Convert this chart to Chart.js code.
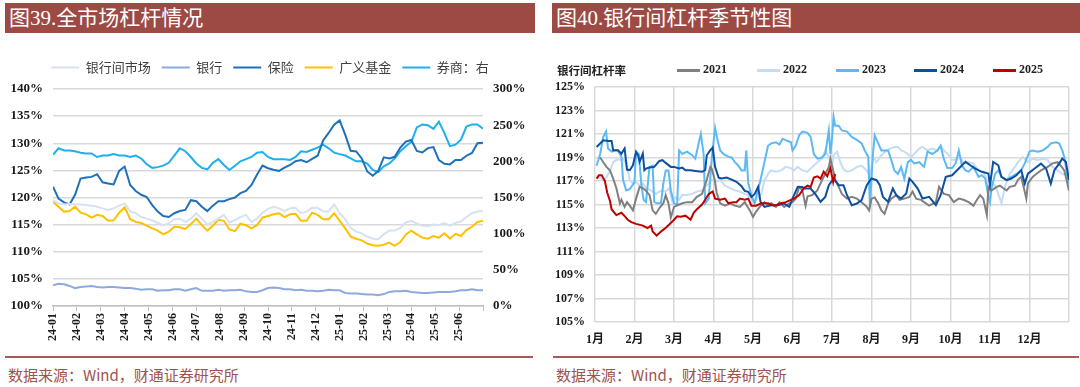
<!DOCTYPE html>
<html>
<head>
<meta charset="utf-8">
<script src="https://cdn.jsdelivr.net/npm/chart.js@4.4.1/dist/chart.umd.min.js"></script>
<style>
  body { margin: 0; width: 1080px; height: 387px; background: #fff; position: relative; overflow: hidden; font-family: "Noto Sans CJK SC", sans-serif; }
  .bar { position: absolute; top: 3px; height: 30px; background: #9D4A44; color: #fff; font: 21px "Liberation Serif", "Noto Sans CJK SC"; line-height: 30px; padding-left: 4px; box-sizing: border-box; }
  .box { position: absolute; top: 40px; width: 540px; height: 310px; }
  .rule { position: absolute; top: 356px; height: 1.5px; background: #A65A55; }
  .src { position: absolute; top: 364px; font-size: 15px; color: #A0524D; font-family: "Noto Sans CJK SC", sans-serif; }
  .ylab { position: absolute; left: 557px; top: 62px; font: bold 11.5px "Noto Sans CJK SC"; color: #222; }
  .legLine { position: absolute; top: 69px; width: 23px; height: 2.5px; }
  .legText { position: absolute; top: 62px; font: bold 12px "Liberation Serif"; color: #222; }
</style>
</head>
<body>
<div class="bar" style="left:5px;width:530px">图39.全市场杠杆情况</div>
<div class="bar" style="left:552px;width:528px">图40.银行间杠杆季节性图</div>

<div class="box" style="left:0"><canvas id="leftChart" width="540" height="310"></canvas></div>
<div class="box" style="left:540px"><canvas id="rightChart" width="540" height="310"></canvas></div>
<div class="ylab">银行间杠杆率</div>
<div id="rightLegend"></div>

<div class="rule" style="left:5px;width:528px"></div>
<div class="rule" style="left:553px;width:526px"></div>
<div class="src" style="left:8px">数据来源：Wind，财通证券研究所</div>
<div class="src" style="left:556px">数据来源：Wind，财通证券研究所</div>

<script>
// ---- 图39 weekly data (left axis %, brokers on right axis %) ----
const months = ['24-01','24-02','24-03','24-04','24-05','24-06','24-07','24-08','24-09',
  '24-10','24-11','24-12','25-01','25-02','25-03','25-04','25-05','25-06'];

const interbank = [119.5,118.9,118.7,118.8,118.7,118.7,118.6,118.5,118.3,118.0,
  117.7,118.0,118.5,118.9,117.5,117.1,116.4,116.1,115.8,115.3,
  114.9,115.2,116.0,116.1,115.5,116.1,117.1,116.1,115.0,115.5,
  116.1,116.8,115.4,115.8,116.4,116.8,115.5,116.1,117.2,117.9,
  118.3,118.0,117.5,118.0,118.1,117.1,117.4,118.1,118.1,117.4,
  117.4,118.7,117.1,116.0,114.4,113.7,113.4,112.8,112.4,112.3,
  113.2,113.9,113.9,114.4,115.4,115.7,115.2,114.8,114.7,115.0,
  114.9,115.3,114.8,115.3,115.6,116.4,117.1,117.4,117.5];

const banks = [103.8,104.1,104.0,103.7,103.3,103.5,103.6,103.7,103.5,103.4,
  103.5,103.5,103.4,103.3,103.3,103.2,103.0,103.1,103.1,102.8,
  102.9,102.9,103.1,103.1,102.8,103.1,103.3,102.8,102.8,102.8,
  103.0,102.8,102.9,102.9,103.0,102.7,102.6,102.6,102.9,103.3,
  103.4,103.3,103.1,103.1,102.9,103.0,102.8,102.8,102.7,102.8,
  103.0,102.9,102.9,102.4,102.3,102.3,102.2,102.1,102.1,102.0,
  102.2,102.6,102.7,102.7,102.8,102.6,102.5,102.4,102.4,102.5,
  102.6,102.6,102.6,102.7,102.9,102.9,103.1,102.9,102.9];

const insurance = [122.0,119.8,119.1,118.7,120.5,123.5,123.7,123.8,124.3,122.8,
  122.6,122.4,124.9,125.7,122.3,121.2,120.5,120.1,118.6,117.4,
  116.6,116.4,117.1,117.5,117.7,119.5,119.3,118.3,117.5,118.5,
  119.3,119.3,119.7,120.0,120.8,121.2,122.3,124.2,125.9,125.4,
  125.1,124.9,125.5,126.0,126.7,126.9,126.5,127.1,127.7,130.5,
  131.9,133.4,134.2,131.6,128.6,128.5,127.2,124.8,124.0,124.9,
  127.4,127.2,127.5,129.2,130.3,130.6,128.6,128.3,129.1,129.3,
  126.9,126.2,126.1,126.9,126.9,127.7,128.2,130.0,130.1];

const funds = [119.2,118.3,117.4,117.5,118.3,117.2,116.9,116.3,116.8,116.6,
  115.7,115.8,117.2,118.2,116.0,115.5,115.3,114.8,114.3,113.9,
  113.2,113.7,114.6,114.5,114.2,115.1,116.1,114.9,113.9,114.8,
  115.9,115.7,114.1,113.8,115.2,114.9,114.3,114.9,116.3,116.6,
  116.9,117.1,116.4,116.9,117.0,115.7,115.7,117.2,116.8,116.0,
  116.0,117.1,115.7,114.3,112.8,112.4,112.1,111.5,111.2,111.1,
  111.3,111.7,111.1,111.8,113.2,113.9,113.2,112.6,112.4,112.9,
  112.6,113.4,112.4,113.3,112.9,114.0,114.6,115.5,115.7];

const brokers = [209,218,215,215,214,212,211,211,206,208,
  208,210,208,208,206,208,204,196,191,192,
  194,198,208,218,214,206,197,191,189,198,
  203,195,188,194,200,203,206,212,213,206,
  203,203,203,202,206,214,213,216,219,223,
  218,212,210,208,204,200,200,197,188,185,
  193,197,204,214,221,227,247,251,250,245,
  255,239,221,223,230,248,251,251,245];

// ---- 图40 seasonal data: [month position, leverage %] ----
const monthLabels = ['1月','2月','3月','4月','5月','6月','7月','8月','9月','10月','11月','12月'];
const years = ['2021','2022','2023','2024','2025'];

const y2021 = [[0.13,119.0],[0.21,118.6],[0.29,118.2],[0.38,117.9],[0.46,117.2],[0.54,116.4],[0.63,115.1],[0.67,115.4],[0.75,114.8],[0.81,115.2],[0.88,114.9],[0.96,114.5],
  [1.04,115.5],[1.13,116.5],[1.21,116.4],[1.28,116.2],[1.38,115.8],[1.46,114.5],[1.54,114.2],[1.63,114.7],[1.73,115.1],[1.79,115.8],[1.86,115.1],[1.92,113.9],
  [2.00,114.8],[2.13,115.0],[2.21,115.1],[2.33,115.2],[2.46,115.2],[2.58,115.65],[2.71,115.9],[2.83,117.1],[2.92,118.2],[2.96,118.0],
  [3.03,117.1],[3.08,116.0],[3.17,115.1],[3.29,114.9],[3.42,115.1],[3.54,114.9],[3.67,114.8],[3.79,115.2],[3.92,114.5],
  [4.00,113.95],[4.08,114.4],[4.17,114.8],[4.29,115.2],[4.38,114.9],[4.46,115.1],[4.58,114.8],[4.67,115.2],[4.79,114.8],[4.92,115.1],
  [5.00,115.2],[5.08,115.5],[5.17,116.5],[5.25,116.2],[5.33,114.9],[5.38,115.7],[5.50,115.8],[5.63,116.2],[5.75,117.1],[5.83,117.6],[5.92,118.2],[5.96,118.9],
  [6.03,117.9],[6.08,117.1],[6.17,116.5],[6.25,115.9],[6.38,115.5],[6.50,115.65],[6.63,115.5],[6.75,115.2],[6.88,114.8],[6.94,114.5],
  [7.00,115.5],[7.08,115.6],[7.17,115.1],[7.25,114.5],[7.33,114.2],[7.42,115.1],[7.50,115.5],[7.63,115.8],[7.71,115.4],[7.83,115.5],[7.96,115.65],
  [8.04,116.1],[8.13,115.5],[8.25,115.4],[8.33,115.2],[8.46,114.9],[8.63,115.2],[8.71,116.5],[8.83,115.9],[8.96,115.8],
  [9.08,115.2],[9.21,115.5],[9.33,115.4],[9.46,115.2],[9.58,114.9],[9.67,115.4],[9.75,115.8],[9.83,115.5],[9.92,114.1],[9.96,116.5],
  [10.04,116.2],[10.17,116.5],[10.25,116.6],[10.33,116.4],[10.42,116.2],[10.50,116.5],[10.63,116.6],[10.71,117.1],[10.79,117.35],[10.92,115.5],[10.96,116.8],
  [11.08,117.35],[11.17,117.6],[11.29,117.9],[11.46,118.2],[11.58,118.5],[11.71,118.6],[11.79,118.3],[11.88,117.9],[11.92,117.35],[12.0,116.2]];

const y2022 = [[0.04,117.2],[0.13,117.3],[0.21,117.07],[0.29,117.3],[0.38,117.9],[0.46,118.6],[0.54,118.8],[0.63,118.8],[0.71,118.9],[0.79,118.5],[0.88,117.1],[0.96,116.8],
  [1.04,116.9],[1.13,116.6],[1.21,116.8],[1.29,116.4],[1.42,116.2],[1.54,115.9],[1.63,116.1],[1.71,116.2],[1.79,116.1],[1.88,116.4],[1.96,115.2],
  [2.04,115.6],[2.13,115.4],[2.21,115.8],[2.33,115.8],[2.46,115.9],[2.58,116.1],[2.71,116.2],[2.79,116.5],[2.88,116.8],[2.96,117.1],
  [3.04,116.9],[3.17,117.1],[3.29,116.6],[3.42,116.4],[3.54,116.2],[3.67,116.1],[3.79,115.9],[3.88,115.8],[3.96,115.4],
  [4.04,115.2],[4.13,115.65],[4.21,115.9],[4.29,117.07],[4.38,117.6],[4.46,117.9],[4.58,117.8],[4.71,117.9],[4.83,118.2],[4.96,118.1],
  [5.04,117.9],[5.13,118.2],[5.25,117.9],[5.38,117.8],[5.50,118.2],[5.63,118.6],[5.75,118.9],[5.83,119.6],[5.92,119.05],
  [6.00,118.2],[6.04,119.2],[6.13,119.5],[6.21,118.6],[6.29,118.0],[6.38,117.8],[6.50,117.9],[6.63,118.2],[6.75,118.3],[6.88,117.9],[6.96,117.35],
  [7.04,119.05],[7.13,118.6],[7.25,119.2],[7.38,119.6],[7.50,119.8],[7.58,119.9],[7.67,119.9],[7.75,119.6],[7.83,119.5],[7.92,119.3],
  [8.00,119.05],[8.08,119.3],[8.21,119.76],[8.29,119.9],[8.42,119.6],[8.54,119.76],[8.67,119.6],[8.75,120.0],[8.83,119.6],[8.96,119.2],
  [9.04,118.8],[9.13,118.8],[9.25,119.05],[9.33,118.5],[9.46,118.6],[9.58,118.5],[9.71,117.9],[9.83,117.8],[9.92,117.07],[9.96,116.2],
  [10.04,116.8],[10.13,116.6],[10.21,115.9],[10.29,115.1],[10.38,116.5],[10.50,117.6],[10.63,118.2],[10.71,118.6],[10.83,119.05],[10.96,118.6],
  [11.08,118.9],[11.21,118.8],[11.33,118.9],[11.46,118.8],[11.58,118.2],[11.71,117.9],[11.83,117.6],[11.92,117.5],[12.0,117.35]];

const y2023 = [[0.04,118.3],[0.13,119.3],[0.21,120.75],[0.28,121.2],[0.33,119.76],[0.42,119.5],[0.50,119.6],[0.58,119.6],[0.67,119.05],[0.71,117.1],[0.79,116.2],[0.88,116.3],
  [1.00,116.9],[1.04,119.5],[1.11,119.3],[1.17,116.8],[1.23,115.4],[1.29,115.2],[1.38,118.2],[1.46,118.3],[1.50,115.2],[1.58,115.1],[1.67,115.1],[1.73,116.8],[1.79,117.9],[1.86,117.9],[1.92,116.2],
  [2.00,115.1],[2.08,115.0],[2.13,119.6],[2.21,119.3],[2.33,119.5],[2.46,119.2],[2.54,118.9],[2.63,120.3],[2.68,121.0],[2.75,119.3],[2.79,115.1],[2.88,115.5],[2.96,119.05],
  [3.04,121.5],[3.10,120.5],[3.17,119.6],[3.25,119.3],[3.38,119.05],[3.46,119.0],[3.54,118.6],[3.63,118.3],[3.71,117.9],[3.79,117.9],[3.83,119.6],[3.88,116.8],[3.96,115.8],
  [4.04,115.1],[4.17,116.8],[4.29,118.6],[4.38,120.0],[4.46,120.2],[4.58,120.3],[4.67,120.1],[4.75,120.6],[4.88,120.4],[4.96,120.3],
  [5.00,119.6],[5.08,120.0],[5.17,120.9],[5.25,121.2],[5.38,121.1],[5.46,120.75],[5.54,119.3],[5.63,118.9],[5.75,119.0],[5.83,119.3],[5.92,121.3],[5.96,119.3],
  [6.00,120.6],[6.04,122.45],[6.08,121.7],[6.17,121.7],[6.25,121.3],[6.38,121.2],[6.50,120.75],[6.63,120.5],[6.75,120.2],[6.83,119.6],[6.92,119.05],[6.96,114.8],
  [7.03,119.05],[7.08,120.9],[7.17,120.2],[7.25,119.6],[7.33,119.6],[7.42,119.6],[7.50,118.8],[7.58,117.9],[7.67,117.6],[7.75,118.2],[7.83,117.2],[7.92,118.6],
  [8.00,118.8],[8.08,118.5],[8.21,118.6],[8.33,118.2],[8.42,119.5],[8.54,119.3],[8.67,119.6],[8.75,120.0],[8.83,118.9],[8.92,118.1],
  [9.04,118.1],[9.13,118.5],[9.21,119.6],[9.29,118.3],[9.38,117.9],[9.46,117.8],[9.58,118.2],[9.71,117.35],[9.79,117.5],[9.88,117.2],[9.96,115.65],
  [10.00,115.2],[10.04,116.4],[10.13,117.6],[10.21,117.9],[10.29,117.35],[10.42,117.1],[10.54,117.35],[10.67,117.6],[10.79,117.9],[10.88,118.5],
  [11.00,119.5],[11.08,119.6],[11.21,119.5],[11.33,119.6],[11.46,119.9],[11.54,120.2],[11.67,120.3],[11.75,120.2],[11.83,119.6],[11.88,119.05],[11.92,118.2],[11.96,117.35],[12.0,116.8]];

const y2024 = [[0.04,119.9],[0.21,120.47],[0.33,120.41],[0.42,120.41],[0.46,119.62],[0.58,119.62],[0.67,119.33],[0.75,119.76],[0.81,117.97],[0.88,117.92],[0.96,118.34],
  [1.04,119.48],[1.09,119.19],[1.13,118.63],[1.21,119.33],[1.25,117.92],[1.29,118.06],[1.38,118.14],[1.50,118.20],[1.63,118.71],[1.71,118.77],[1.79,118.54],[1.92,118.20],
  [2.00,118.20],[2.13,118.06],[2.21,118.14],[2.29,117.92],[2.42,117.92],[2.54,117.86],[2.71,117.78],[2.79,117.92],[2.83,119.19],[2.92,119.62],[2.98,119.84],
  [3.04,118.20],[3.13,117.29],[3.21,117.21],[3.33,117.29],[3.46,117.12],[3.58,116.93],[3.71,116.56],[3.79,116.16],[3.88,116.08],[3.96,115.65],
  [4.04,115.88],[4.13,116.50],[4.19,115.23],[4.29,114.80],[4.46,114.94],[4.63,114.94],[4.79,115.08],[4.92,114.80],
  [5.00,115.51],[5.13,116.50],[5.25,116.50],[5.29,116.36],[5.46,116.36],[5.58,115.88],[5.71,115.23],[5.83,115.65],[5.92,116.64],
  [6.04,117.21],[6.17,116.64],[6.29,116.64],[6.38,115.79],[6.50,114.94],[6.63,115.08],[6.75,115.37],[6.88,116.64],
  [7.00,117.21],[7.13,117.07],[7.21,116.64],[7.29,115.65],[7.42,115.23],[7.54,116.36],[7.63,115.79],[7.75,115.51],[7.88,115.93],[7.96,117.21],
  [8.04,116.93],[8.17,116.36],[8.29,115.51],[8.46,115.65],[8.63,114.94],[8.75,115.79],[8.88,117.35],
  [9.04,117.49],[9.21,118.06],[9.38,118.63],[9.50,118.34],[9.63,118.06],[9.79,117.78],[9.96,117.63],
  [10.00,116.64],[10.08,118.63],[10.21,118.34],[10.29,117.35],[10.42,117.07],[10.54,117.21],[10.67,117.49],[10.79,117.92],[10.88,116.78],[10.96,117.63],
  [11.13,118.06],[11.29,118.48],[11.42,118.06],[11.54,116.78],[11.63,117.92],[11.75,118.48],[11.83,118.91],[11.92,118.63],[12.0,117.07]];

const y2025 = [[0.04,117.2],[0.10,117.5],[0.17,117.5],[0.25,117.0],[0.31,116.0],[0.38,115.3],[0.42,114.6],[0.54,114.1],[0.67,114.3],[0.78,113.9],[0.83,113.7],[0.92,113.5],
  [1.04,113.35],[1.21,113.2],[1.33,113.0],[1.42,113.2],[1.46,112.7],[1.56,112.35],[1.67,112.7],[1.75,112.9],[1.88,113.3],
  [2.00,113.7],[2.08,114.0],[2.17,113.95],[2.29,114.05],[2.42,113.7],[2.50,114.3],[2.58,114.6],[2.71,115.0],[2.79,115.4],[2.88,115.9],[2.98,116.1],
  [3.04,115.5],[3.17,115.4],[3.29,115.5],[3.38,115.1],[3.50,115.2],[3.58,115.2],[3.67,115.5],[3.79,115.4],[3.88,115.5],[3.96,114.9],
  [4.08,114.9],[4.21,115.1],[4.38,115.1],[4.54,114.9],[4.71,115.1],[4.83,115.2],[4.96,115.4],
  [5.04,115.5],[5.17,115.8],[5.29,116.4],[5.38,116.6],[5.46,116.5],[5.54,117.3],[5.63,117.4],[5.71,117.2],[5.79,117.8],[5.88,117.4],[5.96,118.1],
  [6.03,116.9],[6.08,117.6]];

Chart.defaults.font.family = '"Liberation Serif", "Noto Sans CJK SC", serif';
Chart.defaults.color = '#1a1a1a';
Chart.defaults.animation = false;

const GRID = '#D9D9D9';
const tickFont = { weight: 'bold', size: 13 };

// ---- 图39 ----
const step = months.length / (interbank.length - 1);
const weekly = arr => arr.map((v, i) => ({ x: i * step, y: v }));

const legendGap = {
  id: 'legendGap',
  beforeInit(chart) {
    const fit = chart.legend.fit;
    chart.legend.fit = function () { fit.call(this); this.height = 39; };
  }
};

function line(label, data, color, axis) {
  return { label, data, borderColor: color, backgroundColor: color, borderWidth: 2,
    pointRadius: 0, tension: 0, yAxisID: axis || 'y' };
}

new Chart(document.getElementById('leftChart'), {
  type: 'line',
  data: {
    datasets: [
      line('银行间市场', weekly(interbank), '#D6E1F3'),
      line('银行', weekly(banks), '#8EA9DB'),
      line('保险', weekly(insurance), '#1F70B8'),
      line('广义基金', weekly(funds), '#FFC000'),
      line('券商：右', weekly(brokers), '#1DB0EA', 'y1')
    ]
  },
  options: {
    responsive: false,
    layout: { padding: { top: 10, left: 0, right: 0, bottom: 0 } },
    plugins: {
      tooltip: { enabled: false },
      legend: {
        position: 'top',
        labels: { usePointStyle: true, pointStyle: 'line', pointStyleWidth: 28, padding: 11,
          color: '#404040', font: { family: '"Noto Sans CJK SC"', size: 13 } }
      }
    },
    scales: {
      x: {
        type: 'linear', min: 0, max: months.length,
        afterFit(s) { s.height = 44; },
        grid: { drawOnChartArea: false, tickLength: 5, color: '#BFBFBF' },
        border: { color: '#BFBFBF', width: 1.5 },
        ticks: { stepSize: 1, autoSkip: false, minRotation: 90, maxRotation: 90, padding: 2,
          font: { weight: 'bold', size: 12 }, callback: v => months[v] ?? '' }
      },
      y: {
        min: 100, max: 140,
        afterFit(s) { s.width = 53; },
        grid: { color: GRID, lineWidth: 1.5, drawTicks: false },
        border: { display: false },
        ticks: { stepSize: 5, padding: 10, font: tickFont, callback: v => v + '%' }
      },
      y1: {
        position: 'right', min: 0, max: 300,
        afterFit(s) { s.width = 57; },
        grid: { display: false, drawTicks: false },
        border: { display: false },
        ticks: { stepSize: 50, padding: 10, font: tickFont, callback: v => v + '%' }
      }
    }
  },
  plugins: [legendGap]
});

// ---- 图40 ----
const yearColors = ['#808080', '#C4DCF4', '#5CB9F4', '#0D4FA0', '#C00000'];
const yearData = [y2021, y2022, y2023, y2024, y2025];
const yearOrder = [2, 4, 3, 1, 0];

new Chart(document.getElementById('rightChart'), {
  type: 'line',
  data: {
    datasets: years.map((yr, i) => ({
      label: yr, data: yearData[i], borderColor: yearColors[i], borderWidth: 2,
      pointRadius: 0, tension: 0, order: yearOrder[i]
    }))
  },
  options: {
    responsive: false,
    layout: { padding: { top: 47, left: 0, right: 5, bottom: 0 } },
    plugins: { legend: { display: false }, tooltip: { enabled: false } },
    scales: {
      x: {
        type: 'linear', min: 0, max: 12,
        afterFit(s) { s.height = 28; },
        grid: { color: GRID, lineWidth: 1.5, drawTicks: false },
        border: { display: false },
        ticks: { stepSize: 1, autoSkip: false, maxRotation: 0, padding: 11,
          font: { weight: 'bold', size: 12 }, callback: v => monthLabels[v] ?? '' }
      },
      y: {
        min: 105, max: 125,
        afterFit(s) { s.width = 55; },
        grid: { color: GRID, lineWidth: 1.5, drawTicks: false },
        border: { display: false },
        ticks: { stepSize: 2, padding: 10, font: { weight: 'bold', size: 12 }, callback: v => v + '%' }
      }
    }
  }
});

// legend row for 图40
const legX = [677, 757, 836, 914, 993];
const legendBox = document.getElementById('rightLegend');
years.forEach((yr, i) => {
  const l = document.createElement('div');
  l.className = 'legLine';
  l.style.left = legX[i] + 'px';
  l.style.background = yearColors[i];
  const t = document.createElement('div');
  t.className = 'legText';
  t.style.left = (legX[i] + 26) + 'px';
  t.textContent = yr;
  legendBox.appendChild(l);
  legendBox.appendChild(t);
});
</script>
</body>
</html>
